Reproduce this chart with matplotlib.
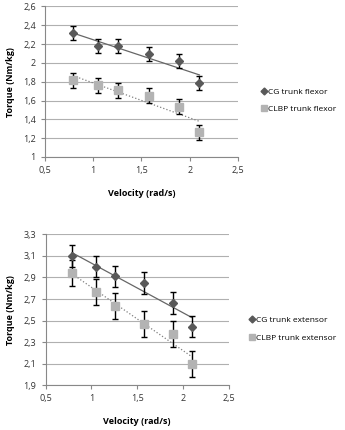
import numpy as np
import matplotlib
matplotlib.use('Agg')
import matplotlib.pyplot as plt
from matplotlib.lines import Line2D

plt.rcParams['font.family'] = ['Open Sans', 'DejaVu Sans']

# velocities (rad/s)
vel = [0.79, 1.05, 1.26, 1.58, 1.89, 2.1]

# trunk flexor torque (Nm/kg)
cg_flex = [2.32, 2.175, 2.175, 2.095, 2.02, 1.785]
cg_flex_err = [0.075, 0.075, 0.075, 0.075, 0.075, 0.075]
clbp_flex = [1.815, 1.76, 1.71, 1.65, 1.535, 1.26]
clbp_flex_err = [0.08, 0.08, 0.08, 0.08, 0.08, 0.08]

# trunk extensor torque (Nm/kg)
cg_ext = [3.1, 3.0, 2.91, 2.85, 2.665, 2.445]
cg_ext_err = [0.1, 0.1, 0.1, 0.1, 0.1, 0.1]
clbp_ext = [2.945, 2.765, 2.635, 2.47, 2.375, 2.1]
clbp_ext_err = [0.12, 0.12, 0.12, 0.12, 0.12, 0.12]

dark = '#595959'
light = '#b3b3b3'
grid = '#b0b0b0'


def panel(ax, cg, cg_err, clbp, clbp_err, ylim, yticks, names, leg_pos):
    x = np.array(vel)
    ax.errorbar(x, cg, yerr=cg_err, fmt='D', ms=4.5, color=dark, ecolor='black',
                elinewidth=1, capsize=2, capthick=1, zorder=3)
    ax.errorbar(x, clbp, yerr=clbp_err, fmt='s', ms=6, color=light, ecolor='black',
                elinewidth=1, capsize=2, capthick=1, zorder=3)
    for y, ls, c in [(cg, '-', '#666666'), (clbp, ':', '#808080')]:
        k, b = np.polyfit(x, y, 1)
        ax.plot([x[0], x[-1]], [k * x[0] + b, k * x[-1] + b], ls, color=c, lw=0.9, zorder=2)
    ax.set_xlim(0.5, 2.5)
    ax.set_ylim(*ylim)
    ax.set_xticks([0.5, 1, 1.5, 2, 2.5])
    ax.set_xticklabels(['0,5', '1', '1,5', '2', '2,5'])
    ax.set_yticks(yticks)
    ax.set_yticklabels([('%g' % t).replace('.', ',') for t in yticks])
    ax.yaxis.grid(True, color=grid, lw=0.8)
    ax.set_axisbelow(True)
    for s in ['top', 'right']:
        ax.spines[s].set_visible(False)
    for s in ['left', 'bottom']:
        ax.spines[s].set_color('#888888')
        ax.spines[s].set_linewidth(0.8)
    ax.tick_params(labelsize=6.5, colors='#888888', labelcolor='#333333', length=3, width=0.8)
    ax.set_xlabel('Velocity (rad/s)', fontsize=6.5, fontweight='bold', labelpad=10)
    ax.set_ylabel('Torque (Nm/kg)', fontsize=6.5, fontweight='bold', labelpad=6)
    handles = [Line2D([], [], ls='none', marker='D', ms=3.5, color=dark),
               Line2D([], [], ls='none', marker='s', ms=5, color=light)]
    ax.legend(handles, names, loc='upper left', bbox_to_anchor=leg_pos, frameon=False,
              fontsize=6, handletextpad=0.1, handlelength=0.8, labelspacing=1.2,
              borderaxespad=0, borderpad=0)


fig = plt.figure(figsize=(3.45, 4.3), dpi=100)
ax1 = fig.add_axes([0.130, 0.635, 0.560, 0.350])
ax2 = fig.add_axes([0.132, 0.104, 0.531, 0.351])

panel(ax1, cg_flex, cg_flex_err, clbp_flex, clbp_flex_err, (1, 2.6),
      [1, 1.2, 1.4, 1.6, 1.8, 2, 2.2, 2.4, 2.6],
      ['CG trunk flexor', 'CLBP trunk flexor'], (1.115, 0.46))
panel(ax2, cg_ext, cg_ext_err, clbp_ext, clbp_ext_err, (1.9, 3.3),
      [1.9, 2.1, 2.3, 2.5, 2.7, 2.9, 3.1, 3.3],
      ['CG trunk extensor', 'CLBP trunk extensor'], (1.11, 0.46))

fig.savefig('out.png', dpi=100)
